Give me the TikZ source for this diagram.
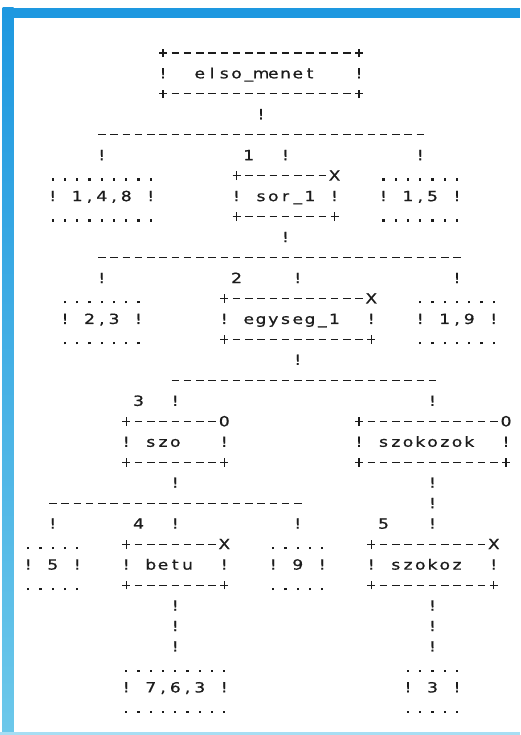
\documentclass[tikz,border=0pt]{standalone}
\usepackage{fontspec}
\setmainfont[FakeStretch=1.22,FakeBold=0.8]{DejaVu Sans}
\definecolor{ink}{HTML}{1C1C1C}
\definecolor{frameTop}{HTML}{1E98E0}
\definecolor{frameBot}{HTML}{6CC8EA}
\makeatletter
\newdimen\cw \cw=12.25pt
\newcount\dcnt
\def\dashglyph{\rule[4.3pt]{7.6pt}{1.2pt}}
\def\plusglyph{\hbox to 8pt{\rule[4.3pt]{8pt}{1.2pt}\kern-4.6pt\rule[0.6pt]{1.2pt}{8.6pt}\hss}}
\def\dotglyph{\rule{2.3pt}{2.3pt}}
\def\cell#1{\hbox to\cw{\hss\ifx#1-\dashglyph\else\ifx#1+\plusglyph\else\ifx#1.\dotglyph\else\ifx#1~\else#1\fi\fi\fi\fi\hss}}
\def\chloop#1{\ifx#1\relax\else\cell{#1}\expandafter\chloop\fi}
\def\asc#1{\hbox{\chloop#1\relax}}
\def\asciibox#1#2#3{\vtop{\baselineskip=20.47pt\lineskiplimit=-30pt\lineskip=0pt\asc{#1}\asc{#2}\asc{#3}}}
\def\dashrow#1{\hbox{\dcnt=#1\relax\loop\ifnum\dcnt>0 \cell{-}\advance\dcnt-1 \repeat}}
\makeatother
\begin{document}
\begin{tikzpicture}[x=12.25pt,y=-20.47pt,
  asc/.style={inner sep=0pt,outer sep=0pt,anchor=base west,text=ink,
    font=\fontsize{14}{20.47}\selectfont}]
\useasboundingbox (0pt,0pt) rectangle (520pt,-735pt);
\fill[white] (0pt,0pt) rectangle (520pt,-735pt);
% blue frame of the page
\shade[top color=frameTop,bottom color=frameBot] (2.5pt,-8pt) rectangle (13.5pt,-735pt);
\fill[frameTop] (2.5pt,-8pt) rectangle (520pt,-18pt);
\fill[frameBot!60] (0pt,-731.5pt) rectangle (520pt,-735pt);
\begin{scope}[shift={(22.175pt,-57.85pt)}]
% level 0
\node[asc] (elso) at (11,0) {\asciibox{+---------------+}{!~~elso\_menet~~~!}{+---------------+}};
\node[asc] (c1) at (19,3) {\asc{!}};
\node[asc] (bar1) at (6,4) {\dashrow{27}};
\node[asc] (c1a) at (6,5) {\asc{!}};
\node[asc] (n1) at (18,5) {\asc{1}};
\node[asc] (c1b) at (21,5) {\asc{!}};
\node[asc] (c1c) at (32,5) {\asc{!}};
% level 1
\node[asc] (b148) at (2,6) {\asciibox{.........}{!~1,4,8~!}{.........}};
\node[asc] (sor) at (17,6) {\asciibox{+-------X}{!~sor\_1~!}{+-------+}};
\node[asc] (b15) at (29,6) {\asciibox{.......}{!~1,5~!}{.......}};
\node[asc] (c2) at (21,9) {\asc{!}};
\node[asc] (bar2) at (6,10) {\dashrow{30}};
\node[asc] (c2a) at (6,11) {\asc{!}};
\node[asc] (n2) at (17,11) {\asc{2}};
\node[asc] (c2b) at (22,11) {\asc{!}};
\node[asc] (c2c) at (35,11) {\asc{!}};
% level 2
\node[asc] (b23) at (3,12) {\asciibox{.......}{!~2,3~!}{.......}};
\node[asc] (egy) at (16,12) {\asciibox{+-----------X}{!~egyseg\_1~~!}{+-----------+}};
\node[asc] (b19) at (32,12) {\asciibox{.......}{!~1,9~!}{.......}};
\node[asc] (c3) at (22,15) {\asc{!}};
\node[asc] (bar3) at (12,16) {\dashrow{22}};
\node[asc] (n3) at (9,17) {\asc{3}};
\node[asc] (c3a) at (12,17) {\asc{!}};
\node[asc] (c3b) at (33,17) {\asc{!}};
% level 3
\node[asc] (szo) at (8,18) {\asciibox{+-------0}{!~szo~~~!}{+-------+}};
\node[asc] (szokozok) at (27,18) {\asciibox{+-----------0}{!~szokozok~~!}{+-----------+}};
\node[asc] (c4a) at (12,21) {\asc{!}};
\node[asc] (c4b) at (33,21) {\asciibox{!}{!}{!}};
\node[asc] (bar4) at (2,22) {\dashrow{21}};
\node[asc] (c5a) at (2,23) {\asc{!}};
\node[asc] (n4) at (9,23) {\asc{4}};
\node[asc] (c5b) at (12,23) {\asc{!}};
\node[asc] (c5c) at (22,23) {\asc{!}};
\node[asc] (n5) at (29,23) {\asc{5}};
% level 4
\node[asc] (b5) at (0,24) {\asciibox{.....}{!~5~!}{.....}};
\node[asc] (betu) at (8,24) {\asciibox{+-------X}{!~betu~~!}{+-------+}};
\node[asc] (b9) at (20,24) {\asciibox{.....}{!~9~!}{.....}};
\node[asc] (szokoz) at (28,24) {\asciibox{+---------X}{!~szokoz~~!}{+---------+}};
\node[asc] (c6a) at (12,27) {\asciibox{!}{!}{!}};
\node[asc] (c6b) at (33,27) {\asciibox{!}{!}{!}};
% level 5
\node[asc] (b763) at (8,30) {\asciibox{.........}{!~7,6,3~!}{.........}};
\node[asc] (b3) at (31,30) {\asciibox{.....}{!~3~!}{.....}};
\end{scope}
\end{tikzpicture}
\end{document}
